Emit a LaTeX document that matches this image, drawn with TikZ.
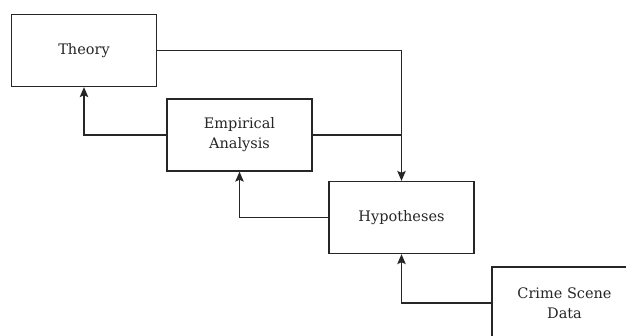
\documentclass[tikz,border=0pt]{standalone}
\usepackage{fontspec}
\setmainfont{DejaVu Serif}
\usetikzlibrary{arrows.meta}
\begin{document}
\begin{tikzpicture}[x=1pt,y=-1pt,
  box/.style={draw=black!85,line width=1.3pt,fill=white,minimum width=145pt,minimum height=72pt,align=center,font=\fontsize{14.5}{20}\selectfont,text=black!85,inner sep=0pt},
  conn/.style={draw=black!85,line width=1.3pt},
  arr/.style={conn,-{Stealth[length=10pt,width=8.5pt,inset=2pt]}}]
\clip (0,0) rectangle (626,335);
\fill[white] (0,0) rectangle (626,335);
\node[box] (T) at (84,50.5) {Theory};
\node[box] (E) at (239.5,135) {Empirical\\Analysis};
\node[box] (H) at (401.5,217.5) {Hypotheses};
\node[box] (C) at (564.5,303) {Crime Scene\\Data};
\draw[arr] (T.east) -| (H.north);
\draw[conn] (E.east) -- (E.east -| H.north);
\draw[arr] (E.west) -| (T.south);
\draw[arr] (H.west) -| (E.south);
\draw[arr] (C.west) -| (H.south);
\end{tikzpicture}
\end{document}
